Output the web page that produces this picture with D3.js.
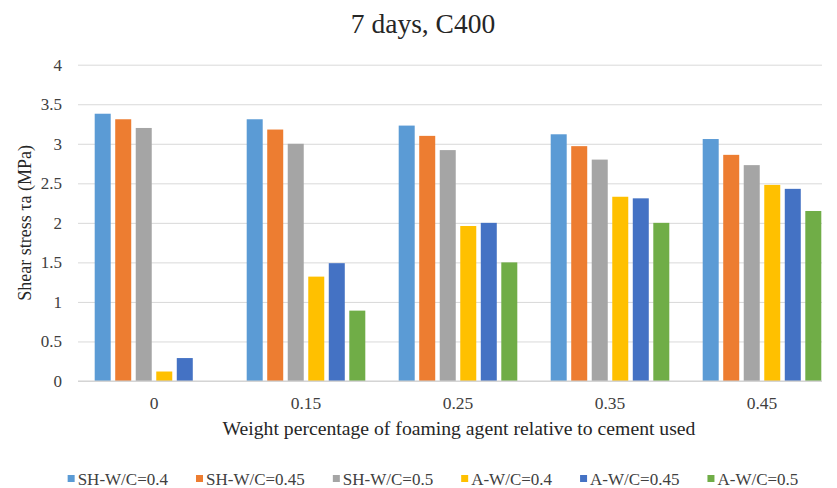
<!DOCTYPE html>
<html>
<head>
<meta charset="utf-8">
<script src="https://cdn.jsdelivr.net/npm/d3@7"></script>
<style>
  html, body { margin: 0; padding: 0; background: #fff; }
  svg { display: block; font-family: "Liberation Serif", "Times New Roman", serif; }
</style>
</head>
<body>
<svg id="chart" width="837" height="488"></svg>
<script>
// Foaming agent dosage (% of cement weight)
const categories = ["0", "0.15", "0.25", "0.35", "0.45"];
const seriesNames = ["SH-W/C=0.4", "SH-W/C=0.45", "SH-W/C=0.5", "A-W/C=0.4", "A-W/C=0.45", "A-W/C=0.5"];
const seriesColors = ["#5B9BD5", "#ED7D31", "#A5A5A5", "#FFC000", "#4472C4", "#70AD47"];

// Shear stress τa (MPa) after 7 days, one array per series
const shW04  = [3.38, 3.31, 3.23, 3.12, 3.06];
const shW045 = [3.31, 3.18, 3.10, 2.97, 2.86];
const shW05  = [3.20, 3.00, 2.92, 2.80, 2.73];
const aW04   = [0.12, 1.32, 1.96, 2.33, 2.48];
const aW045  = [0.29, 1.49, 2.00, 2.31, 2.43];
const aW05   = [0.00, 0.89, 1.50, 2.00, 2.15];
const seriesValues = [shW04, shW045, shW05, aW04, aW045, aW05];

const yTicks = [0, 0.5, 1, 1.5, 2, 2.5, 3, 3.5, 4];

const svg = d3.select("#chart");
const plot = { left: 78, right: 838, top: 64.7, bottom: 381 };
const serif = "'Liberation Serif', 'Times New Roman', serif";

const x0 = d3.scaleBand().domain(categories).range([plot.left, plot.right]).padding(0);
const x1 = d3.scaleBand().domain(seriesNames)
  .range([16.7, x0.bandwidth() - 16.7]).paddingInner(0.22).paddingOuter(0);
const y = d3.scaleLinear().domain([0, 4]).range([plot.bottom, plot.top]);

// Horizontal gridlines with tick labels
const yAxis = d3.axisLeft(y).tickValues(yTicks).tickFormat(d3.format("")).tickSize(-(plot.right - plot.left - 16)).tickPadding(16);
const gy = svg.append("g").attr("transform", `translate(${plot.left},0)`).call(yAxis);
gy.select(".domain").remove();
gy.selectAll(".tick line").attr("stroke", "#d9d9d9").attr("stroke-width", 1);
gy.selectAll(".tick text").attr("fill", "#404040").style("font-size", "17px").style("font-family", serif);

// Bars
const groups = svg.append("g").selectAll("g").data(categories).join("g")
  .attr("transform", d => `translate(${x0(d)},0)`);
groups.selectAll("rect")
  .data((c, ci) => seriesNames.map((s, si) => ({ s, si, v: seriesValues[si][ci] })))
  .join("rect")
  .attr("x", d => x1(d.s))
  .attr("width", x1.bandwidth())
  .attr("y", d => y(d.v))
  .attr("height", d => y(0) - y(d.v))
  .attr("fill", d => seriesColors[d.si]);

// Baseline
svg.append("line")
  .attr("x1", plot.left).attr("x2", plot.right - 16)
  .attr("y1", y(0)).attr("y2", y(0))
  .attr("stroke", "#d0d0d0").attr("stroke-width", 1);

// Category labels
const xAxis = d3.axisBottom(x0).tickSize(0).tickPadding(16);
const gx = svg.append("g").attr("transform", `translate(0,${plot.bottom})`).call(xAxis);
gx.select(".domain").remove();
gx.selectAll(".tick text").attr("fill", "#404040").style("font-size", "17.5px").style("font-family", serif);

// Title
svg.append("text").attr("x", 423).attr("y", 33).attr("text-anchor", "middle")
  .attr("fill", "#262626").style("font-size", "27.5px").text("7 days, C400");

// Axis titles
svg.append("text").attr("x", 459).attr("y", 435).attr("text-anchor", "middle")
  .attr("fill", "#262626").style("font-size", "19.7px")
  .text("Weight percentage of foaming agent relative to cement used");

svg.append("text").attr("transform", `translate(31,${(plot.top + plot.bottom) / 2}) rotate(-90)`)
  .attr("text-anchor", "middle").attr("fill", "#262626").style("font-size", "18px")
  .text("Shear stress τa (MPa)");

// Legend
const legend = svg.append("g");
const items = legend.selectAll("g").data(seriesNames).join("g");
items.append("rect").attr("width", 7).attr("height", 7).attr("y", -10)
  .attr("fill", (d, i) => seriesColors[i]);
items.append("text").attr("x", 10).attr("y", 0).attr("fill", "#404040")
  .style("font-size", "17px").text(d => d);
const gap = 28;
let cursor = 0;
const positions = [];
items.each(function () {
  positions.push(cursor);
  cursor += 10 + this.querySelector("text").getComputedTextLength() + gap;
});
const totalWidth = cursor - gap;
const startX = 433 - totalWidth / 2;
items.attr("transform", (d, i) => `translate(${startX + positions[i]},485)`);
</script>
</body>
</html>
